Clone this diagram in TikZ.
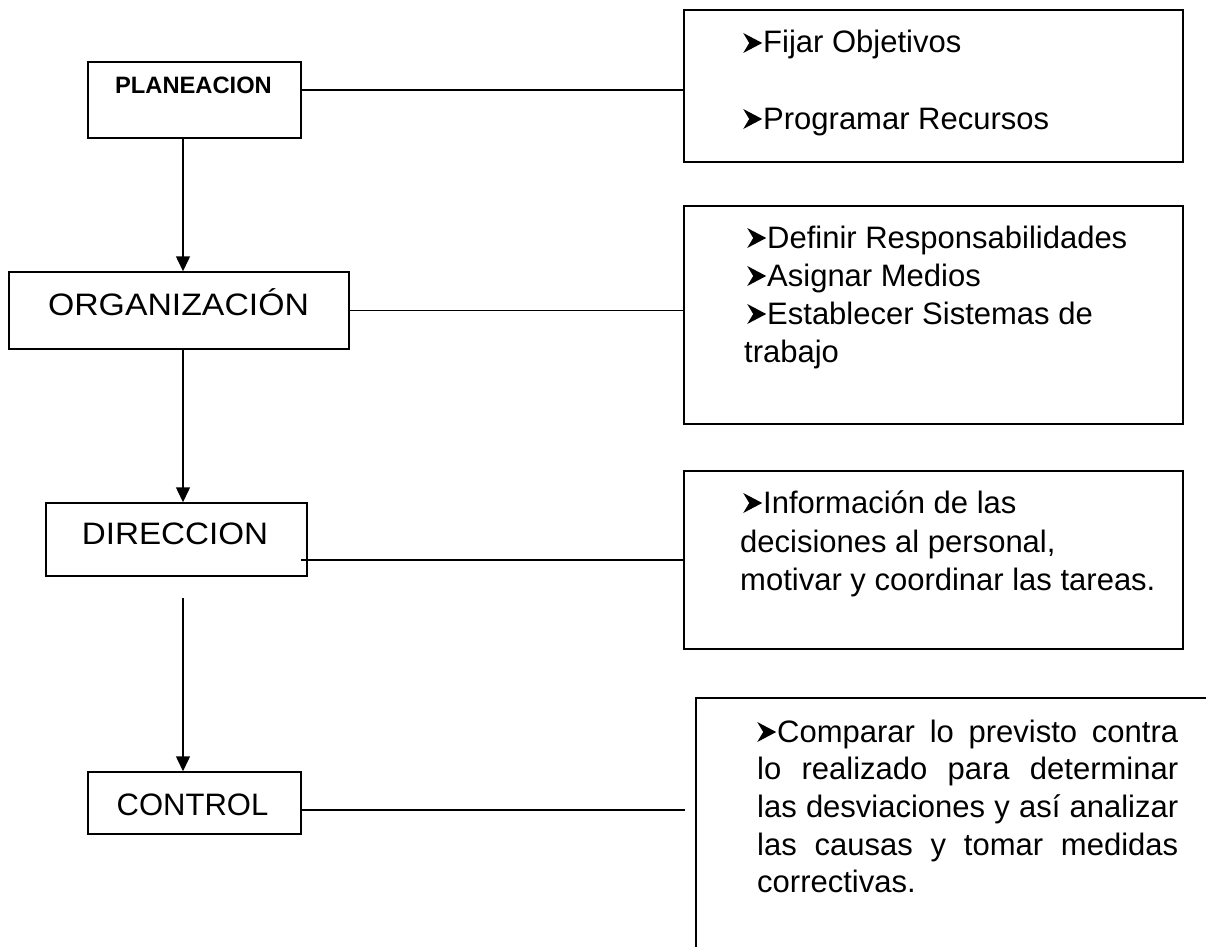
\documentclass[tikz,border=0pt]{standalone}
\usepackage{fontspec}
\setmainfont{Liberation Sans}
\usetikzlibrary{arrows.meta}
\newcommand{\blt}{\tikz[baseline=0pt,x=1pt,y=1pt]{\fill[black] (0,0) -- (19,10) -- (0,20) -- (6,10) -- cycle;}\hspace{1pt}}
\begin{document}
\begin{tikzpicture}[x=1pt,y=-1pt,
  box/.style={draw,line width=1.5pt,inner sep=0pt},
  lbl/.style={anchor=base,inner sep=0pt,font=\fontsize{31}{37}\selectfont},
  txt/.style={anchor=base west,inner sep=0pt,font=\fontsize{31}{37}\selectfont},
  conn/.style={line width=1.5pt},
  arr/.style={line width=1.5pt,-{Triangle[length=15pt,width=14pt]}}]
\useasboundingbox[fill=white] (0,0) rectangle (1206,947);

% left boxes
\node[box,minimum width=213pt,minimum height=76pt] (plan) at (194.5,100) {};
\node[box,minimum width=340pt,minimum height=77pt] (org) at (179,310.5) {};
\node[box,minimum width=261pt,minimum height=73pt] (dir) at (176.5,539.5) {};
\node[box,minimum width=213pt,minimum height=62pt] (ctrl) at (194.5,803) {};

% right boxes
\node[box,minimum width=499pt,minimum height=152pt] (r1) at (933.5,86) {};
\node[box,minimum width=499pt,minimum height=218pt] (r2) at (933.5,315) {};
\node[box,minimum width=499pt,minimum height=178pt] (r3) at (933.5,560) {};
\node[inner sep=0pt,minimum width=510pt,minimum height=249pt] (r4) at (951,822.5) {};
\draw[conn] (r4.north east) -- (r4.north west) -- (r4.south west);

% labels
\node[lbl,font=\bfseries\fontsize{23.7}{28}\selectfont] (tplan) at (193.5,94) {PLANEACION};
\node[lbl] (torg) at (178.5,315) {\scalebox{1.09}[1]{ORGANIZACIÓN}};
\node[lbl] (tdir) at (175,544) {\scalebox{1.07}[1]{DIRECCION}};
\node[lbl] (tctrl) at (192.5,815) {CONTROL};

% arrows
\coordinate (ax) at (183,0);
\draw[arr] (plan.south -| ax) -- (org.north -| ax);
\draw[arr] (org.south -| ax) -- (dir.north -| ax);
\coordinate (a3) at (183,598);
\draw[arr] (a3) -- (ctrl.north -| ax);

% connectors
\coordinate (p1) at ([yshift=10pt]plan.east);
\draw[conn] (p1) -- (p1 -| r1.west);
\draw[conn] (org.east) -- (org.east -| r2.west);
\coordinate (q1) at ([xshift=-7pt,yshift=-20.5pt]dir.east);
\draw[conn] (q1) -- (q1 -| r3.west);
\coordinate (k1) at ([yshift=-7pt]ctrl.east);
\coordinate (k2) at (685,810);
\draw[conn] (k1) -- (k2);

% texts box 1
\node[txt] (f1) at (743,53) {\blt Fijar Objetivos};
\node[txt] (f2) at (743,129) {\blt Programar Recursos};
% box 2
\node[txt] (o1) at (747,248) {\blt Definir Responsabilidades};
\node[txt] (o2) at (747,286) {\blt Asignar Medios};
\node[txt] (o3) at (747,324) {\blt Establecer Sistemas de};
\node[txt] (o4) at (744,362) {trabajo};
% box 3
\node[txt] (d1) at (743,513) {\blt Información de las};
\node[txt] (d2) at (740,552) {decisiones al personal,};
\node[txt] (d3) at (740,590) {motivar y coordinar las tareas.};
% box 4
\node[txt] (c1) at (757,742) {\makebox[421pt][s]{\blt Comparar lo previsto contra}};
\node[txt] (c2) at (757,779) {\makebox[421pt][s]{lo realizado para determinar}};
\node[txt] (c3) at (757,817) {\makebox[421pt][s]{las desviaciones y así analizar}};
\node[txt] (c4) at (757,855) {\makebox[421pt][s]{las causas y tomar medidas}};
\node[txt] (c5) at (757,892) {correctivas.};
\end{tikzpicture}
\end{document}
